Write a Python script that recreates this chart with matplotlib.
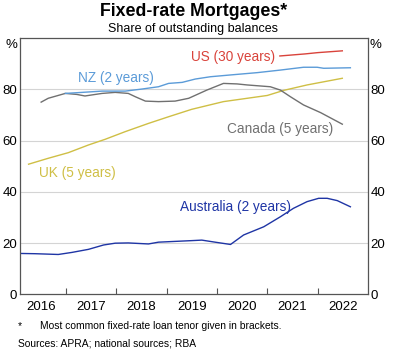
import matplotlib
matplotlib.use("Agg")
import matplotlib.pyplot as plt
import numpy as np

plt.rcParams['font.family'] = ['Liberation Sans', 'DejaVu Sans']

# ---- data (decimal years, % share) ----
aus_x = [2016.09, 2016.39, 2016.85, 2017.12, 2017.45, 2017.75, 2017.98, 2018.24, 2018.64, 2018.84,
         2019.50, 2019.70, 2019.93, 2020.27, 2020.53, 2020.93, 2021.26, 2021.52, 2021.79, 2022.02,
         2022.19, 2022.39, 2022.65]
aus_y = [16.0, 15.9, 15.6, 16.4, 17.6, 19.3, 20.0, 20.1, 19.7, 20.4,
         21.0, 21.2, 20.5, 19.5, 23.2, 26.4, 30.3, 33.6, 36.2, 37.5,
         37.5, 36.6, 34.2]

uk_x = [2016.26, 2016.65, 2017.05, 2017.45, 2017.78, 2018.18, 2018.64, 2019.04, 2019.50, 2020.13,
        2021.00, 2021.33, 2021.79, 2022.49]
uk_y = [50.8, 53.1, 55.3, 58.3, 60.5, 63.5, 66.7, 69.3, 72.2, 75.2,
        77.6, 79.6, 81.7, 84.3]

can_x = [2016.51, 2016.65, 2016.99, 2017.22, 2017.38, 2017.72, 2017.98, 2018.24, 2018.38, 2018.58,
         2018.84, 2019.17, 2019.44, 2019.80, 2020.13, 2020.40, 2020.60, 2021.06, 2021.26, 2021.46,
         2021.72, 2022.06, 2022.49]
can_y = [75.0, 76.5, 78.4, 78.0, 77.4, 78.4, 78.8, 78.4, 77.1, 75.4,
         75.2, 75.4, 76.5, 79.7, 82.3, 82.1, 81.7, 81.0, 79.7, 77.1,
         73.9, 70.9, 66.4]

nz_x = [2016.99, 2017.32, 2017.72, 2018.18, 2018.51, 2018.84, 2019.04, 2019.31, 2019.57, 2019.87,
        2020.27, 2020.80, 2021.26, 2021.72, 2021.99, 2022.12, 2022.65]
nz_y = [78.4, 78.8, 79.3, 79.3, 80.1, 81.0, 82.3, 82.7, 84.0, 84.9,
        85.6, 86.5, 87.5, 88.6, 88.6, 88.2, 88.4]

us_x = [2021.25, 2021.75, 2022.00, 2022.49]
us_y = [93.0, 93.8, 94.3, 95.0]

year_labels = ['2016', '2017', '2018', '2019', '2020', '2021', '2022']
y_ticks = [0, 20, 40, 60, 80]

# ---- styling ----
c_aus = '#1f35a5'
c_uk = '#cfbf45'
c_can = '#707070'
c_nz = '#5b9bd8'
c_us = '#d9433b'

fig = plt.figure(figsize=(4.0, 3.52), dpi=100)
ax = fig.add_axes([0.05, 0.1634, 0.87, 0.7286])

lw = 1.0
ax.plot(aus_x, aus_y, color=c_aus, lw=lw)
ax.plot(uk_x, uk_y, color=c_uk, lw=lw)
ax.plot(can_x, can_y, color=c_can, lw=lw)
ax.plot(nz_x, nz_y, color=c_nz, lw=lw)
ax.plot(us_x, us_y, color=c_us, lw=lw)

ax.set_xlim(2016.09, 2023.0)
ax.set_ylim(0, 100)

for v in [20, 40, 60, 80]:
    ax.axhline(v, color='#d4d4d4', lw=0.8, zorder=0)

for s in ax.spines.values():
    s.set_color('#555555')
    s.set_linewidth(0.9)

ax.set_yticks(y_ticks)
ax.set_yticklabels([str(v) for v in y_ticks])
ax.tick_params(axis='y', length=0, pad=2, labelsize=9.5, labelright=True, right=True)

years = [int(y) for y in year_labels]
ax.set_xticks(years[1:])
ax.set_xticklabels([])
ax.set_xticks([y + 0.5 for y in years], minor=True)
ax.set_xticklabels(year_labels, minor=True)
ax.tick_params(axis='x', which='major', direction='in', length=4, color='#555555')
ax.tick_params(axis='x', which='minor', length=0, pad=5, labelsize=9.5)

ts = 9.8
ax.text(2021.16, 92.6, 'US (30 years)', color=c_us, fontsize=ts, ha='right', va='center')
ax.text(2017.24, 84.4, 'NZ (2 years)', color=c_nz, fontsize=ts, ha='left', va='center')
ax.text(2020.21, 64.5, 'Canada (5 years)', color=c_can, fontsize=ts, ha='left', va='center')
ax.text(2016.47, 47.4, 'UK (5 years)', color=c_uk, fontsize=ts, ha='left', va='center')
ax.text(2019.27, 34.1, 'Australia (2 years)', color=c_aus, fontsize=ts, ha='left', va='center')

fig.text(0.0425, 1 - 45 / 352, '%', fontsize=9.5, ha='right', va='center')
fig.text(0.925, 1 - 45 / 352, '%', fontsize=9.5, ha='left', va='center')

fig.text(0.483, 1 - 11 / 352, 'Fixed-rate Mortgages*', fontsize=12.8, fontweight='bold',
         ha='center', va='center')
fig.text(0.483, 1 - 29 / 352, 'Share of outstanding balances', fontsize=9,
         ha='center', va='center')

fig.text(0.045, 1 - 326 / 352, '*', fontsize=7.4, ha='left', va='center')
fig.text(0.10, 1 - 326 / 352, 'Most common fixed-rate loan tenor given in brackets.', fontsize=7.4,
         ha='left', va='center')
fig.text(0.045, 1 - 343 / 352, 'Sources: APRA; national sources; RBA', fontsize=7.4,
         ha='left', va='center')

fig.savefig('out.png', dpi=100)
